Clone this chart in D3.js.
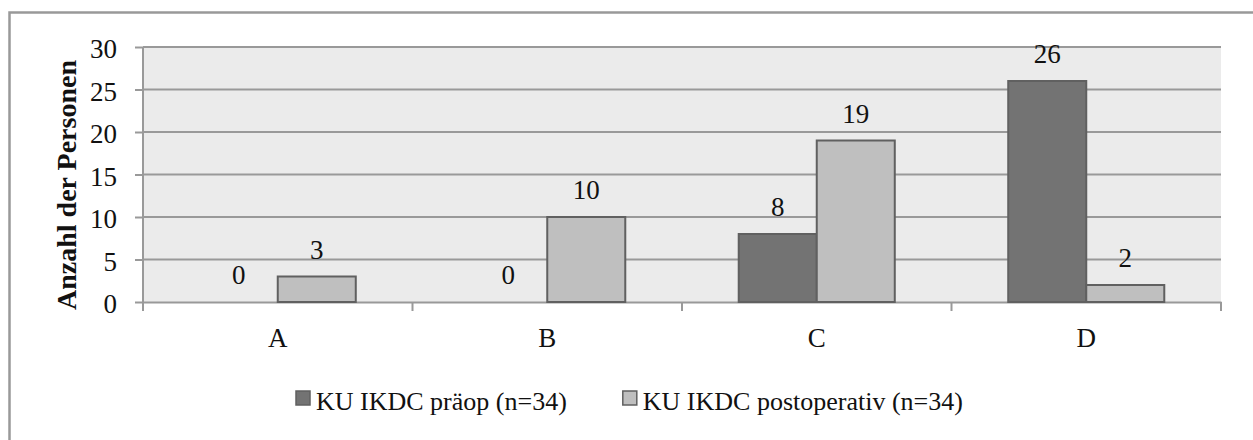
<!DOCTYPE html>
<html>
<head>
<meta charset="utf-8">
<script src="https://cdn.jsdelivr.net/npm/d3@7"></script>
<style>
  body { margin: 0; background: #fff; }
  text { font-family: "Liberation Serif", serif; fill: #111; }
</style>
</head>
<body>
<div id="chart"></div>
<script>
const categories = ["A", "B", "C", "D"];
const seriesNames = ["KU IKDC präop (n=34)", "KU IKDC postoperativ (n=34)"];
const preop = [0, 0, 8, 26];
const postop = [3, 10, 19, 2];
const yTicks = [0, 5, 10, 15, 20, 25, 30];
const yTitle = "Anzahl der Personen";
const colors = ["#737373", "#bfbfbf"];

const W = 1253, H = 440;
const margin = {left: 143, right: 32, top: 47, bottom: 138};
const width = W - margin.left - margin.right;
const height = H - margin.top - margin.bottom;

const svg = d3.select("#chart").append("svg")
  .attr("width", W).attr("height", H);

// outer frame (runs off the right and bottom edges)
svg.append("rect")
  .attr("x", 9.5).attr("y", 12.5)
  .attr("width", W + 20).attr("height", H + 20)
  .attr("fill", "none").attr("stroke", "#999").attr("stroke-width", 2.5);

const g = svg.append("g").attr("transform", `translate(${margin.left},${margin.top})`);

const x0 = d3.scaleBand().domain(categories).range([0, width]);
const x1 = d3.scaleBand().domain([0, 1]).range([0, x0.bandwidth()]).paddingOuter(0.727);
const y = d3.scaleLinear().domain([0, 30]).range([height, 0]);

g.append("rect").attr("width", width).attr("height", height).attr("fill", "#ebebeb");

// gridlines
g.selectAll(".grid").data(yTicks.slice(1)).enter().append("line")
  .attr("x1", 0).attr("x2", width)
  .attr("y1", d => y(d)).attr("y2", d => y(d))
  .attr("stroke", "#999").attr("stroke-width", 2);

// y axis
const yAxis = g.append("g").call(d3.axisLeft(y).tickValues(yTicks).tickSize(8).tickPadding(18));
yAxis.select(".domain").remove();
yAxis.selectAll(".tick line").attr("stroke", "#999").attr("stroke-width", 2);
yAxis.selectAll(".tick text").style("font-size", "27px").attr("dy", "0.4em").style("fill", "#111");
g.append("line").attr("x1", 0).attr("x2", 0).attr("y1", 0).attr("y2", height + 1)
  .attr("stroke", "#999").attr("stroke-width", 2);

// x axis
const xAxis = g.append("g").attr("transform", `translate(0,${height})`)
  .call(d3.axisBottom(x0).tickSize(0).tickPadding(26));
xAxis.select(".domain").attr("stroke", "#999").attr("stroke-width", 2);
xAxis.selectAll(".tick text").style("font-size", "27px").style("fill", "#111");
g.append("g").selectAll("line")
  .data(categories.concat(["end"])).enter().append("line")
  .attr("x1", (d, i) => i < categories.length ? x0(d) : x0.range()[1])
  .attr("x2", (d, i) => i < categories.length ? x0(d) : x0.range()[1])
  .attr("y1", height).attr("y2", height + 9)
  .attr("stroke", "#999").attr("stroke-width", 2);

// bars
const rows = categories.map((c, i) => ({cat: c, vals: [preop[i], postop[i]]}));
const groups = g.selectAll(".grp").data(rows).enter().append("g")
  .attr("transform", d => `translate(${x0(d.cat)},0)`);

groups.selectAll("rect").data(d => d.vals.map((v, s) => ({v, s}))).enter().append("rect")
  .attr("x", d => x1(d.s))
  .attr("width", x1.bandwidth())
  .attr("y", d => y(d.v))
  .attr("height", d => height - y(d.v))
  .attr("fill", d => colors[d.s])
  .attr("stroke", d => d.v > 0 ? "#606060" : "none")
  .attr("stroke-width", 2);

groups.selectAll("text").data(d => d.vals.map((v, s) => ({v, s}))).enter().append("text")
  .attr("x", d => x1(d.s) + x1.bandwidth() / 2)
  .attr("y", d => y(d.v) - 18)
  .attr("text-anchor", "middle")
  .style("font-size", "27px")
  .text(d => d.v);

// y title
svg.append("text")
  .attr("transform", `translate(76,185) rotate(-90)`)
  .attr("text-anchor", "middle")
  .style("font-size", "28px").style("font-weight", "bold")
  .text(yTitle);

// legend
const leg = svg.append("g").attr("transform", "translate(296,0)");
let lx = 0;
seriesNames.forEach((name, i) => {
  leg.append("rect").attr("x", lx).attr("y", 391).attr("width", 14).attr("height", 14)
    .attr("fill", colors[i]).attr("stroke", "#606060").attr("stroke-width", 1.5);
  const t = leg.append("text").attr("x", lx + 20).attr("y", 410)
    .style("font-size", "26px").text(name);
  lx += 20 + t.node().getComputedTextLength() + 56;
});
</script>
</body>
</html>
